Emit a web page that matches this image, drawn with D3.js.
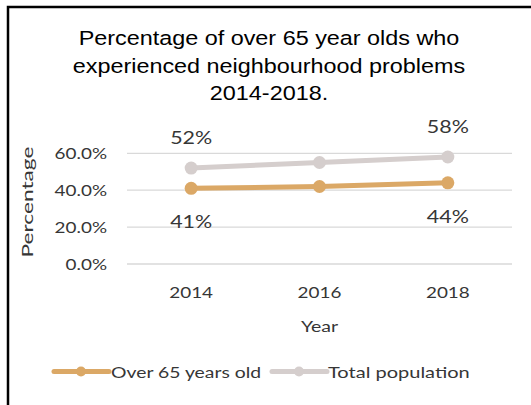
<!DOCTYPE html>
<html>
<head>
<meta charset="utf-8">
<script src="https://cdn.jsdelivr.net/npm/d3@7"></script>
<style>
  html, body { margin: 0; padding: 0; background: #fff; }
  svg { display: block; }
</style>
</head>
<body>
<svg id="chart" width="531" height="405"></svg>
<script>
const titleLines = ["Percentage of over 65 year olds who", "experienced neighbourhood problems", "2014-2018."];
const years = ["2014", "2016", "2018"];
const over65 = [41, 42, 44];
const totalPop = [52, 55, 58];
const yTicks = [0, 20, 40, 60];
const seriesNames = ["Over 65 years old", "Total population"];
const seriesColors = ["#DBA866", "#D5CECD"];

const svg = d3.select("#chart");
const bodyFont = "Lato, 'Open Sans', sans-serif";
const textColor = "#363636";

// frame
svg.append("path")
  .attr("d", "M8,405 L8,7 L531,7")
  .attr("fill", "none").attr("stroke", "#000").attr("stroke-width", 2.5);

// helper for horizontally stretched text
function stretchedText(g, x, y, str, opts) {
  const s = opts.sx || 1.18;
  return g.append("text")
    .attr("transform", `translate(${x},${y}) scale(${s},1)`)
    .attr("text-anchor", opts.anchor || "middle")
    .attr("font-family", opts.family || bodyFont)
    .attr("font-size", opts.size)
    .attr("fill", opts.fill || textColor)
    .text(str);
}

// title
titleLines.forEach((l, i) => {
  stretchedText(svg, 269, 45 + i * 27.5, l, {size: 19.5, sx: 1.2, family: "'Liberation Sans', Arial, sans-serif", fill: "#000"});
});

const plot = {left: 127, right: 512, top: 153.3, bottom: 264};
const x = d3.scalePoint().domain(years).range([plot.left, plot.right]).padding(0.5);
const y = d3.scaleLinear().domain([0, 60]).range([plot.bottom, plot.top]);

// gridlines
svg.append("g").selectAll("line").data(yTicks).join("line")
  .attr("x1", plot.left).attr("x2", plot.right)
  .attr("y1", d => y(d)).attr("y2", d => y(d))
  .attr("stroke", "#D9D9D9").attr("stroke-width", 1.3);

// y tick labels
const yAxisG = svg.append("g");
yTicks.forEach(d => {
  stretchedText(yAxisG, 107, y(d) + 5.5, d3.format(".1f")(d) + "%", {size: 16, anchor: "end"});
});

// x tick labels
const xAxisG = svg.append("g");
years.forEach(d => {
  stretchedText(xAxisG, x(d), 298, d, {size: 16});
});

// axis titles
stretchedText(svg, 319.5, 332, "Year", {size: 16, sx: 1.22});
svg.append("text")
  .attr("transform", `translate(33,202) rotate(-90) scale(1.42,1)`)
  .attr("text-anchor", "middle")
  .attr("font-family", bodyFont).attr("font-size", 16).attr("fill", textColor)
  .text("Percentage");

// lines
const line = d3.line().x((d, i) => x(years[i])).y(d => y(d));
const allSeries = [over65, totalPop];
[1, 0].forEach(si => {
  const g = svg.append("g");
  g.append("path").datum(allSeries[si])
    .attr("d", line).attr("fill", "none")
    .attr("stroke", seriesColors[si]).attr("stroke-width", 5)
    .attr("stroke-linecap", "round");
  g.selectAll("circle").data(allSeries[si]).join("circle")
    .attr("cx", (d, i) => x(years[i])).attr("cy", d => y(d)).attr("r", 6.5)
    .attr("fill", seriesColors[si]);
});

// data labels (first and last points)
const labelIdx = [0, 2];
labelIdx.forEach(i => {
  stretchedText(svg, x(years[i]), y(totalPop[i]) - 24, totalPop[i] + "%", {size: 16.5, sx: 1.3});
  stretchedText(svg, x(years[i]), y(over65[i]) + 40, over65[i] + "%", {size: 16.5, sx: 1.3});
});

// legend
const legend = [{x0: 54, tx: 111, sx: 1.21}, {x0: 272, tx: 328, sx: 1.25}];
legend.forEach((L, i) => {
  const g = svg.append("g");
  g.append("line").attr("x1", L.x0).attr("x2", L.x0 + 55).attr("y1", 371.5).attr("y2", 371.5)
    .attr("stroke", seriesColors[i]).attr("stroke-width", 5).attr("stroke-linecap", "round");
  g.append("circle").attr("cx", L.x0 + 27).attr("cy", 371.5).attr("r", 5).attr("fill", seriesColors[i]);
  stretchedText(g, L.tx, 377.5, seriesNames[i], {size: 16, sx: L.sx, anchor: "start"});
});
</script>
</body>
</html>
